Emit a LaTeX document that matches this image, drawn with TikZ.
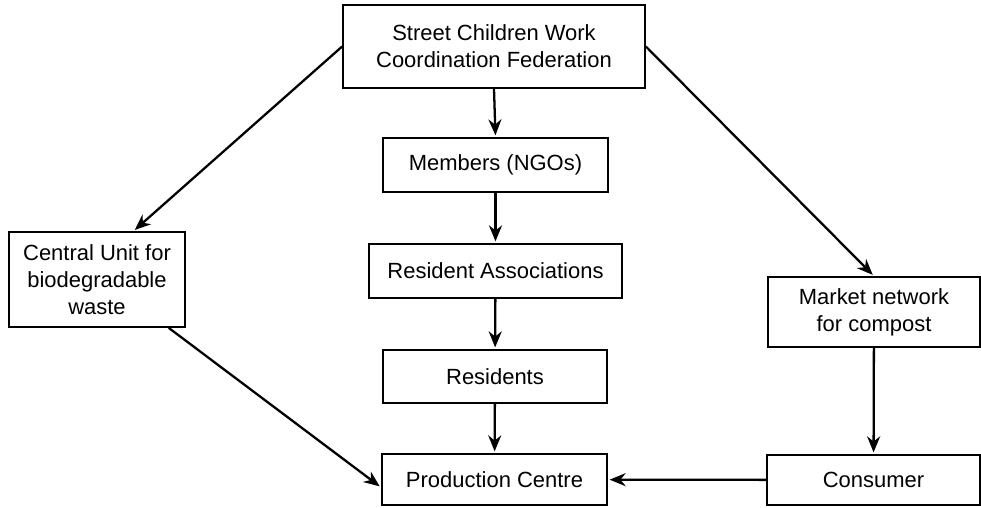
\documentclass[tikz,border=0pt]{standalone}
\usepackage{fontspec}
\setmainfont{Liberation Sans}
\usetikzlibrary{arrows.meta, calc}
\tikzset{
  box/.style={draw, line width=1pt, align=center, inner sep=2pt, font=\fontsize{12.5}{15.5}\selectfont},
  tra/.style={-{Stealth[length=3.2mm, width=2.6mm]}, line width=1.3pt, shorten >=1pt}
}
\begin{document}
\begin{tikzpicture}[x=0.2mm, y=-0.2mm]
		\useasboundingbox (0,0) rectangle (981,507);
		% top
		\node[box, minimum width=60.4mm, minimum height=16.6mm] (fed) at (494,46.5) {Street Children Work\\Coordination Federation};
		% middle column
		\node[box, minimum width=45mm, minimum height=10.8mm] (ngo) at (495.5,165) {Members (NGOs)};
		\node[box, minimum width=50.6mm, minimum height=10.8mm] (assoc) at (495.5,271) {Resident Associations};
		\node[box, minimum width=44.8mm, minimum height=10.6mm] (res) at (495,376.5) {Residents};
		\node[box, minimum width=45mm, minimum height=10.2mm] (prod) at (494.5,479.5) {Production Centre};
		% sides
		\node[box, minimum width=35.2mm, minimum height=19mm] (unit) at (97,279.5) {Central Unit for\\biodegradable\\waste};
		\node[box, minimum width=42.4mm, minimum height=14mm] (market) at (874,312) {Market network\\for compost};
		\node[box, minimum width=42.6mm, minimum height=10mm] (cons) at (873.5,480) {Consumer};
		\draw[tra] (fed.west) -- (unit.53);
		\draw[tra] (fed.east) -- (market.north);
		\draw[tra] (fed.south) -- (ngo.north);
		\draw[tra] (ngo) -- (assoc);
		\draw[tra] (assoc) -- (res);
		\draw[tra] (res) -- (prod);
		\draw[tra] (unit.-34) -- (prod.184);
		\draw[tra] (market) -- (cons);
		\draw[tra] (cons) -- (prod);
	\end{tikzpicture}
\end{document}
